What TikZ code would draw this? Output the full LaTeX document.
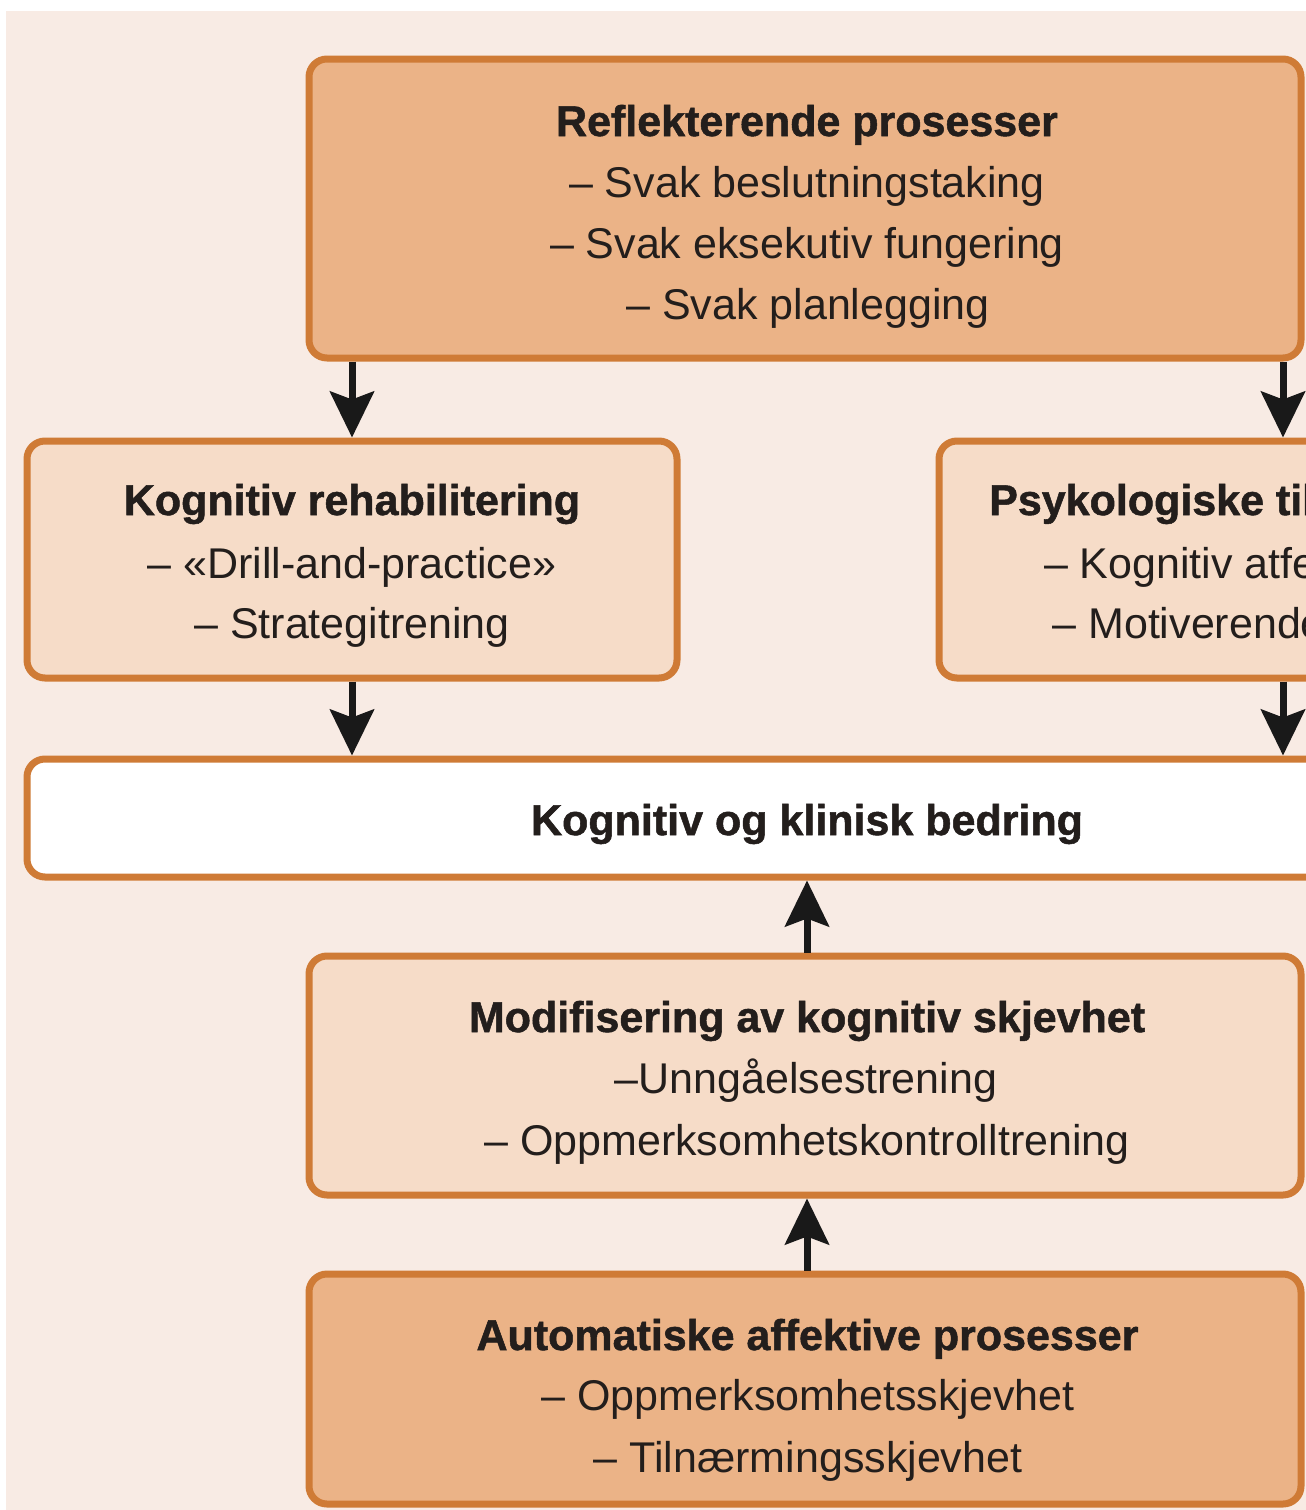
\documentclass[tikz,border=0pt]{standalone}
\usepackage{fontspec}
\setmainfont[BoldFeatures={FakeBold=1.2}]{Liberation Sans}
\usetikzlibrary{arrows.meta}
\definecolor{bgpink}{HTML}{F8EBE4}
\definecolor{bordc}{HTML}{CF7B36}
\definecolor{darkf}{HTML}{EBB387}
\definecolor{lightf}{HTML}{F6DCC8}
\definecolor{txt}{HTML}{231E1C}
\tikzset{
  box/.style={draw=bordc, line width=3.5pt, rounded corners=9pt, inner sep=0pt},
  ttl/.style={anchor=base, inner sep=0pt, text=txt, font=\fontsize{21.5pt}{26pt}\selectfont\bfseries},
  itm/.style={anchor=base, inner sep=0pt, text=txt, font=\fontsize{21.5pt}{26pt}\selectfont},
  arr/.style={draw=black!90, line width=3.5pt, -{Stealth[length=23pt,width=22pt,inset=4pt]}}
}
\begin{document}
\begin{tikzpicture}[x=0.5pt,y=-0.5pt]
\useasboundingbox (0,0) rectangle (1306,1510);
\clip (0,0) rectangle (1306,1510);
\fill[white] (0,0) rectangle (1306,1510);
\fill[bgpink] (6,11) rectangle (1320,1520);

% boxes
\node[box, fill=darkf, minimum width=496pt, minimum height=149.5pt] (top) at (805,208.5) {};
\node[box, fill=lightf, minimum width=325pt, minimum height=118.5pt] (rehab) at (352,559.5) {};
\node[box, fill=lightf, minimum width=325pt, minimum height=118.5pt] (psyk) at (1264,559.5) {};
\node[box, fill=white, minimum width=781pt, minimum height=59pt] (bedring) at (808,818) {};
\node[box, fill=lightf, minimum width=496pt, minimum height=119.5pt] (modif) at (805,1075.5) {};
\node[box, fill=darkf, minimum width=496pt, minimum height=115pt] (auto) at (805,1389) {};

% texts
\node[ttl] (topT) at (807,136) {Reflekterende prosesser};
\node[itm] (top1) at (807,197) {– Svak beslutningstaking};
\node[itm] (top2) at (807,258) {– Svak eksekutiv fungering};
\node[itm] (top3) at (808,319) {– Svak planlegging};

\node[ttl] (rehabT) at (352,515) {Kognitiv rehabilitering};
\node[itm] (rehab1) at (352,578) {– «Drill-and-practice»};
\node[itm] (rehab2) at (352,638) {– Strategitrening};

\node[ttl] (psykT) at (1264,515) {Psykologiske tilnærminger};
\node[itm] (psyk1) at (1264,578) {– Kognitiv atferdsterapi};
\node[itm] (psyk2) at (1264,638) {– Motiverende intervju};

\node[ttl] (bedT) at (807,835) {Kognitiv og klinisk bedring};

\node[ttl] (modifT) at (807,1032) {Modifisering av kognitiv skjevhet};
\node[itm] (modif1) at (806,1093) {–Unngåelsestrening};
\node[itm] (modif2) at (807,1155) {– Oppmerksomhetskontrolltrening};

\node[ttl] (autoT) at (807.5,1350) {Automatiske affektive prosesser};
\node[itm] (auto1) at (808,1410) {– Oppmerksomhetsskjevhet};
\node[itm] (auto2) at (808,1472) {– Tilnærmingsskjevhet};

% connectors
\coordinate (pr) at (1283,400);
\coordinate (pc) at (807,920);
\draw[arr] (rehab.north |- top.south) -- (rehab.north);
\draw[arr] (top.south -| pr) -- (psyk.north -| pr);
\draw[arr] (rehab.south) -- (bedring.north -| rehab.south);
\draw[arr] (psyk.south -| pr) -- (bedring.north -| pr);
\draw[arr] (modif.north -| pc) -- (bedring.south -| pc);
\draw[arr] (auto.north -| pc) -- (modif.south -| pc);
\end{tikzpicture}
\end{document}
